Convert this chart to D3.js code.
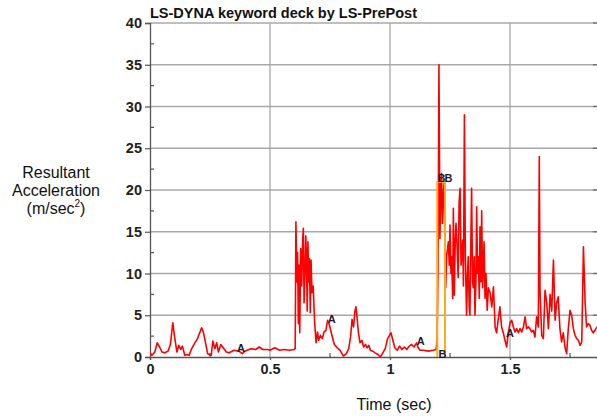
<!DOCTYPE html>
<html><head><meta charset="utf-8">
<script src="https://cdn.jsdelivr.net/npm/d3@7"></script>
<style>body{margin:0;background:#fff}svg{display:block}</style>
</head><body>
<script>
const title = "LS-DYNA keyword deck by LS-PrePost";
const xLabel = "Time (sec)";
const yLabelLines = ["Resultant", "Acceleration"];
const xTicks = [0, 0.5, 1, 1.5];
const xTickLabels = ["0", "0.5", "1", "1.5"];
const yTicks = [0, 5, 10, 15, 20, 25, 30, 35, 40];
const xMinor = [0.25, 0.75, 1.25, 1.75];
const yMinor = [2.5, 7.5, 12.5, 17.5, 22.5, 27.5, 32.5, 37.5];

// Curve A (red): time and resultant acceleration
const timeA = [
0.000,0.008,0.020,0.030,0.040,0.050,0.062,0.075,0.085,0.095,0.102,0.112,0.120,0.128,0.135,0.145,0.155,0.163,0.172,0.185,
0.198,0.215,0.222,0.228,0.240,0.255,0.262,0.270,0.278,0.285,0.295,0.305,0.318,0.330,0.350,0.370,0.385,0.395,0.420,0.440,
0.455,0.470,0.490,0.500,0.520,0.540,0.560,0.580,0.600,0.605,0.608,0.612,0.615,0.618,0.621,0.624,0.628,0.632,0.636,0.639,
0.642,0.646,0.649,0.652,0.655,0.658,0.661,0.664,0.668,0.671,0.675,0.680,0.686,0.692,0.698,0.703,0.710,0.718,0.725,0.733,
0.740,0.748,0.758,0.768,0.780,0.792,0.806,0.818,0.828,0.836,0.842,0.848,0.854,0.858,0.862,0.868,0.875,0.883,0.890,0.898,
0.905,0.912,0.918,0.928,0.938,0.950,0.960,0.970,0.980,0.990,1.004,1.012,1.020,1.030,1.040,1.050,1.060,1.070,1.080,1.090,
1.100,1.111,1.116,1.125,1.140,1.160,1.180,1.192,1.196,1.200,1.204,1.208,1.212,1.215,1.218,1.222,1.226,1.229,1.232,1.236,
1.240,1.243,1.247,1.250,1.254,1.257,1.261,1.264,1.268,1.272,1.275,1.280,1.284,1.288,1.292,1.296,1.299,1.303,1.306,1.310,
1.314,1.319,1.323,1.326,1.330,1.333,1.337,1.340,1.344,1.347,1.351,1.354,1.358,1.361,1.365,1.368,1.372,1.375,1.379,1.382,
1.386,1.389,1.392,1.396,1.400,1.405,1.410,1.417,1.424,1.431,1.438,1.444,1.451,1.458,1.465,1.472,1.479,1.486,1.493,1.500,
1.507,1.514,1.521,1.528,1.535,1.542,1.549,1.556,1.563,1.569,1.576,1.583,1.590,1.597,1.604,1.611,1.618,1.622,1.625,1.632,
1.639,1.646,1.653,1.660,1.667,1.674,1.681,1.688,1.694,1.701,1.708,1.715,1.722,1.729,1.736,1.743,1.750,1.757,1.764,1.771,
1.778,1.785,1.792,1.799,1.806,1.813,1.819,1.826,1.833,1.840,1.847,1.854,1.862
];
const accelA = [
0.5,0.2,0.6,1.7,1.2,0.6,0.5,0.7,1.5,4.1,2.5,0.6,1.4,0.9,1.3,0.2,0.3,0.2,0.9,1.6,
2.2,3.5,3.0,2.2,0.4,0.2,1.9,1.0,1.7,0.6,1.5,1.1,0.6,0.5,0.8,0.7,0.4,0.7,1.0,0.9,
1.2,0.9,0.9,0.8,1.1,0.8,0.9,0.8,0.9,1.0,16.2,9.0,12.5,4.0,11.0,2.9,13.0,8.5,14.0,15.4,
6.5,10.0,14.5,12.0,5.5,13.8,9.0,11.8,5.3,11.6,7.7,8.5,4.1,1.7,3.0,2.0,2.6,2.2,3.0,3.2,
4.4,3.8,2.6,1.5,1.1,0.8,0.1,0.4,1.0,2.5,4.5,3.6,5.5,6.0,5.0,3.0,1.7,2.0,1.2,1.5,
1.1,1.4,0.8,0.7,0.5,0.3,0.0,0.5,1.0,2.2,2.9,2.0,1.1,0.8,1.3,0.9,1.2,0.9,1.3,1.5,
1.2,1.7,1.2,0.8,0.8,0.7,0.8,0.9,2.0,10.0,35.0,14.2,20.5,22.0,16.0,19.4,21.0,12.2,8.3,12.2,
13.0,13.8,11.0,15.8,10.0,12.0,7.0,17.8,7.4,14.0,16.0,13.0,9.5,18.6,20.2,11.0,12.0,14.0,8.5,29.0,
12.0,5.0,10.0,12.0,6.0,5.0,14.0,20.2,9.0,8.3,12.0,5.0,9.0,18.0,10.0,12.0,7.0,15.6,9.0,17.5,
8.3,10.8,13.8,7.0,10.0,5.6,8.3,7.7,6.0,8.4,3.6,2.9,4.5,6.0,3.6,2.9,2.0,1.2,2.9,4.1,
4.4,3.6,3.0,3.4,2.9,3.4,3.0,3.6,4.8,3.4,3.6,3.4,3.0,3.2,2.4,4.8,3.6,24.0,8.0,2.6,
2.2,8.0,6.5,3.4,7.5,5.5,11.6,4.4,6.4,7.2,3.4,1.8,2.9,1.2,0.4,3.4,5.6,5.0,3.4,2.6,
2.2,2.0,1.4,1.8,13.2,6.5,3.6,4.0,3.8,3.2,2.9,3.2,3.6
];

// Curve B (orange)
const timeB = [1.197, 1.197, 1.229, 1.229];
const accelB = [0, 21.0, 21.0, 0];

// Curve markers
const markA_t = [0.379, 0.757, 1.128, 1.500];
const markA_v = [1.1, 4.55, 1.9, 2.9];
const markB_t = [1.219, 1.215, 1.244];
const markB_v = [0.3, 21.4, 21.4];

const W = 597, H = 416;
const svg = d3.select("body").append("svg").attr("width", W).attr("height", H)
  .style("font-family", "'Liberation Sans', Arial, sans-serif");

const x = d3.scaleLinear().domain([0, 1.8625]).range([150, 597]);
const y = d3.scaleLinear().domain([0, 40]).range([357, 23]);

const gridColor = "#a8a8a8";
svg.append("g").selectAll("line").data(yTicks.slice(1)).join("line")
  .attr("x1", x(0)).attr("x2", W).attr("y1", d => y(d)).attr("y2", d => y(d))
  .attr("stroke", gridColor).attr("stroke-width", 1.3);
svg.append("g").selectAll("line").data(xTicks.slice(1)).join("line")
  .attr("x1", d => x(d)).attr("x2", d => x(d)).attr("y1", y(40)).attr("y2", y(0))
  .attr("stroke", gridColor).attr("stroke-width", 1.3);

const axisColor = "#555";
const yAxis = svg.append("g").attr("transform", `translate(${x(0)},0)`)
  .call(d3.axisLeft(y).tickValues(yTicks).tickSize(5).tickPadding(3));
yAxis.select(".domain").attr("stroke", axisColor).attr("stroke-width", 1.3);
yAxis.selectAll(".tick line").attr("stroke", axisColor).attr("stroke-width", 1.2);
yAxis.selectAll("text").attr("font-size", 14.5).attr("font-weight", "bold").attr("fill", "#222")
  .attr("font-family", "'Liberation Sans', Arial, sans-serif");

const xAxis = svg.append("g").attr("transform", `translate(0,${y(0)})`)
  .call(d3.axisBottom(x).tickValues(xTicks).tickFormat((d, i) => xTickLabels[i]).tickSize(3).tickPadding(4));
xAxis.select(".domain").attr("stroke", axisColor).attr("stroke-width", 1.3);
xAxis.selectAll(".tick line").attr("stroke", axisColor).attr("stroke-width", 1.2);
xAxis.selectAll("text").attr("font-size", 14.5).attr("font-weight", "bold").attr("fill", "#222")
  .attr("font-family", "'Liberation Sans', Arial, sans-serif");

svg.append("g").selectAll("line").data(yMinor).join("line")
  .attr("x1", x(0)).attr("x2", x(0) + 4).attr("y1", d => y(d)).attr("y2", d => y(d))
  .attr("stroke", axisColor).attr("stroke-width", 1.2);
svg.append("g").selectAll("line").data(xMinor).join("line")
  .attr("x1", d => x(d)).attr("x2", d => x(d)).attr("y1", y(0)).attr("y2", y(0) - 4)
  .attr("stroke", axisColor).attr("stroke-width", 1.2);
svg.append("g").selectAll("line").data(yTicks.slice(1)).join("line")
  .attr("x1", W - 4).attr("x2", W).attr("y1", d => y(d)).attr("y2", d => y(d))
  .attr("stroke", "#666").attr("stroke-width", 1.2);

svg.append("clipPath").attr("id", "clip").append("rect")
  .attr("x", x(0)).attr("y", y(40) - 2).attr("width", W - x(0)).attr("height", y(0) - y(40) + 2);

const line = d3.line().x(d => x(d[0])).y(d => y(d[1]));
const dataB = timeB.map((t, i) => [t, accelB[i]]);
const dataA = timeA.map((t, i) => [t, accelA[i]]);

svg.append("path").datum(dataA).attr("d", line).attr("clip-path", "url(#clip)")
  .attr("fill", "none").attr("stroke", "#ff0000").attr("stroke-width", 1.6)
  .attr("stroke-linejoin", "round");
svg.append("path").datum(dataB).attr("d", line).attr("clip-path", "url(#clip)")
  .attr("fill", "none").attr("stroke", "#ffa81e").attr("stroke-width", 2);

svg.append("g").selectAll("text").data(markA_t).join("text")
  .attr("x", d => x(d)).attr("y", (d, i) => y(markA_v[i]))
  .attr("dy", "0.36em").attr("text-anchor", "middle")
  .attr("font-size", 11).attr("font-weight", "bold").attr("fill", "#1a1a2a").text("A");
svg.append("g").selectAll("text").data(markB_t).join("text")
  .attr("x", d => x(d)).attr("y", (d, i) => y(markB_v[i]))
  .attr("dy", "0.36em").attr("text-anchor", "middle")
  .attr("font-size", 11).attr("font-weight", "bold").attr("fill", "#1a1a2a").text("B");

svg.append("text").attr("x", x(0)).attr("y", 18)
  .attr("font-size", 14.5).attr("font-weight", "bold").attr("fill", "#111").text(title);

svg.append("text").attr("x", 394).attr("y", 410).attr("text-anchor", "middle")
  .attr("font-size", 16).attr("fill", "#111").text(xLabel);
const yl = svg.append("g").attr("font-size", 16).attr("fill", "#111").attr("text-anchor", "middle");
yLabelLines.forEach((s, i) => {
  yl.append("text").attr("x", 56).attr("y", 178 + i * 18).text(s);
});
const t3 = yl.append("text").attr("x", 56).attr("y", 214);
t3.append("tspan").text("(m/sec");
t3.append("tspan").attr("font-size", 10).attr("dy", -7).text("2");
t3.append("tspan").attr("dy", 7).text(")");
</script>
</body></html>
